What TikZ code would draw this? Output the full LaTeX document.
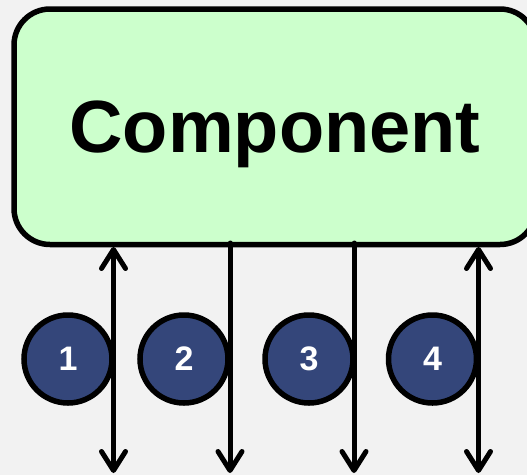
\documentclass[tikz,border=0pt]{standalone}
\usepackage{fontspec}
\setmainfont{Liberation Sans}
\usetikzlibrary{arrows.meta}
\definecolor{bg}{RGB}{242,242,242}
\definecolor{boxgreen}{RGB}{204,255,204}
\definecolor{numblue}{RGB}{52,70,122}
\tikzset{
  compbox/.style={draw=black, line width=5.5pt, fill=boxgreen, rounded corners=36pt,
    minimum width=522pt, minimum height=235.5pt, inner sep=0pt, text depth=0pt,
    font=\fontsize{74}{80}\selectfont\bfseries},
  numcircle/.style={circle, draw=black, line width=5.5pt, fill=numblue, minimum size=88pt,
    inner sep=0pt, text=white, text depth=0pt, font=\fontsize{34}{38}\selectfont\bfseries},
  conn/.style={line width=5pt, line cap=round},
  tip/.tip={Straight Barb[length=19pt, width=24pt, round]}
}
\begin{document}
\begin{tikzpicture}[x=1pt,y=-1pt]
\useasboundingbox (0,0) rectangle (527,475);
\clip (0,0) rectangle (527,475);
\fill[bg] (0,0) rectangle (527,475);
\node[compbox] (comp) at (275,126.75) {Component};
\node[numcircle] (n1) at (68,359) {1};
\node[numcircle] (n2) at (184,359) {2};
\node[numcircle] (n3) at (309,359) {3};
\node[numcircle] (n4) at (432.5,359) {4};
\coordinate (t1) at (113.5,247);
\coordinate (b1) at (113.5,473);
\coordinate (t2) at (230,243);
\coordinate (b2) at (230,473);
\coordinate (t3) at (354,243);
\coordinate (b3) at (354,473);
\coordinate (t4) at (478.5,247);
\coordinate (b4) at (478.5,473);
\draw[conn, tip-tip] (t1) -- (b1);
\draw[conn, -tip] (t2) -- (b2);
\draw[conn, -tip] (t3) -- (b3);
\draw[conn, tip-tip] (t4) -- (b4);
\end{tikzpicture}
\end{document}
